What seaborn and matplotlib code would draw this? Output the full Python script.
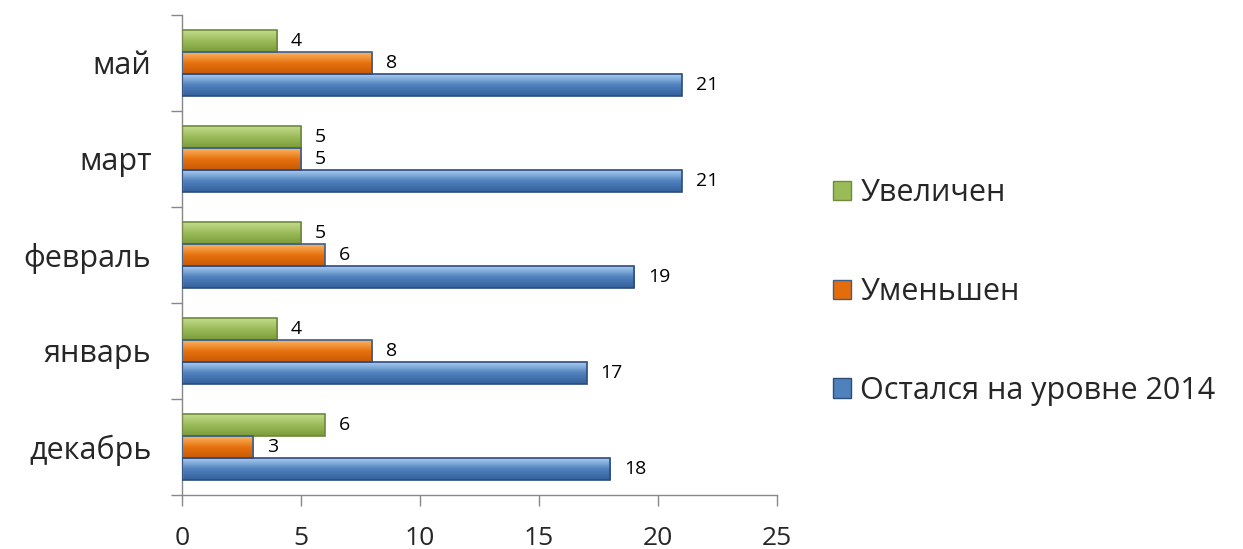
import numpy as np
import pandas as pd
import seaborn as sns
import matplotlib.pyplot as plt
from matplotlib.colors import LinearSegmentedColormap
from matplotlib.ticker import FixedLocator

sns.set_theme(style="white")
plt.rcParams["font.family"] = ["Open Sans", "DejaVu Sans"]

months = ["май", "март", "февраль", "январь", "декабрь"]
series = ["Увеличен", "Уменьшен", "Остался на уровне 2014"]
increased = [4, 5, 5, 4, 6]
decreased = [8, 5, 6, 8, 3]
same_level = [21, 21, 19, 17, 18]
x_ticks = [0, 5, 10, 15, 20, 25]

df = pd.DataFrame({
    "month": months * 3,
    "group": [series[0]] * 5 + [series[1]] * 5 + [series[2]] * 5,
    "value": increased + decreased + same_level,
})

colors = {series[0]: "#9bbb59", series[1]: "#e46c0a", series[2]: "#4f81bd"}
edges = {series[0]: "#6e8a3a", series[1]: "#3a5f8f", series[2]: "#2c4d7a"}
shades = {
    series[0]: ["#c3db8c", "#9bbb59", "#7a9a3c"],
    series[1]: ["#fbb463", "#e8720f", "#c55a05"],
    series[2]: ["#a9ccf2", "#4f81bd", "#34609a"],
}

fig = plt.figure(figsize=(12.43, 5.49), dpi=100)
ax = fig.add_axes([0.1464, 0.0984, 0.4787, 0.8743])

sns.barplot(data=df, y="month", x="value", hue="group", order=months,
            hue_order=series, palette=colors, orient="h", width=0.68,
            saturation=1, ax=ax, legend=False)

ax.set_xlim(0, 25)
ax.set_ylim(len(months) - 0.5, -0.5)

# bevel-like shading, clipped to each bar; the bar keeps only its outline on top
grad = np.linspace(0, 1, 64).reshape(-1, 1)
for cont, name in zip(ax.containers, series):
    cmap = LinearSegmentedColormap.from_list(name, shades[name])
    for bar in cont:
        bar.set_facecolor("none")
        bar.set_edgecolor(edges[name])
        bar.set_linewidth(1.2)
        bar.set_zorder(3)
        x0, y0 = bar.get_x(), bar.get_y()
        w, h = bar.get_width(), bar.get_height()
        im = ax.imshow(grad, cmap=cmap, aspect="auto", origin="upper",
                       extent=(x0, x0 + w, y0 + h, y0), zorder=2)
        im.set_clip_path(bar)
    ax.bar_label(cont, padding=10, fontsize=14, color="black")

ax.set_xlim(0, 25)
ax.set_ylim(len(months) - 0.5, -0.5)
ax.set_xticks(x_ticks)
ax.set_xlabel("")
ax.set_ylabel("")
ax.tick_params(axis="x", labelsize=19, length=8, width=1, color="#888888",
               direction="out", bottom=True, pad=14)
ax.tick_params(axis="y", which="major", labelsize=22, length=0, pad=22)
ax.yaxis.set_minor_locator(FixedLocator([i - 0.5 for i in range(len(months) + 1)]))
ax.tick_params(axis="y", which="minor", length=8, width=1, color="#888888",
               direction="out", left=True)
for s in ["top", "right"]:
    ax.spines[s].set_visible(False)
for s in ["left", "bottom"]:
    ax.spines[s].set_color("#888888")
    ax.spines[s].set_linewidth(1)
ax.grid(False)

handles = [plt.Rectangle((0, 0), 1, 1, facecolor=colors[s], edgecolor=edges[s]) for s in series]
fig.legend(handles, series, loc="center left", bbox_to_anchor=(0.648, 0.468),
           frameon=False, fontsize=22, handlelength=0.6, handleheight=0.6,
           handletextpad=0.3, labelspacing=2.25)

fig.savefig("out.png", dpi=100)
plt.close(fig)
